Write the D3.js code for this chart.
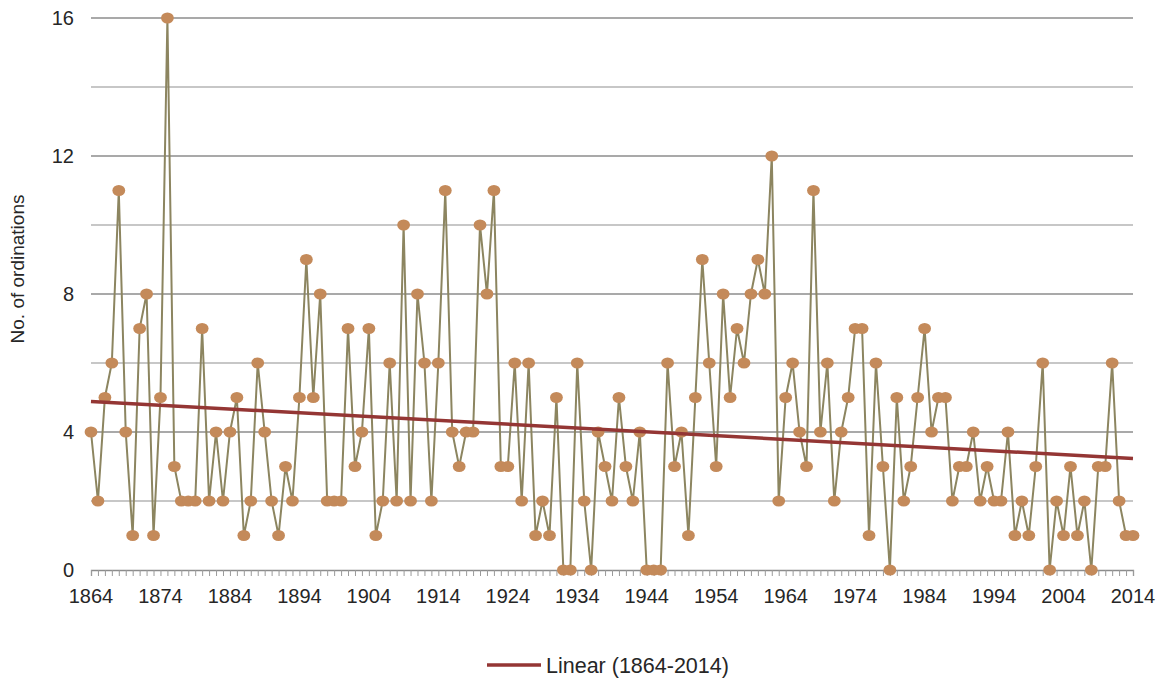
<!DOCTYPE html>
<html>
<head>
<meta charset="utf-8">
<script src="https://cdn.jsdelivr.net/npm/d3@7"></script>
<style>
  body { margin: 0; background: #fff; }
  text { font-family: "Liberation Sans", Arial, sans-serif; fill: #262626; }
</style>
</head>
<body>
<script>
const years = d3.range(1864, 2015);
const ordinations = [
    4, 2, 5, 6, 11, 4, 1, 7, 8, 1,      // 1864-1873
    5, 16, 3, 2, 2, 2, 7, 2, 4, 2,      // 1874-1883
    4, 5, 1, 2, 6, 4, 2, 1, 3, 2,       // 1884-1893
    5, 9, 5, 8, 2, 2, 2, 7, 3, 4,       // 1894-1903
    7, 1, 2, 6, 2, 10, 2, 8, 6, 2,      // 1904-1913
    6, 11, 4, 3, 4, 4, 10, 8, 11, 3,    // 1914-1923
    3, 6, 2, 6, 1, 2, 1, 5, 0, 0,       // 1924-1933
    6, 2, 0, 4, 3, 2, 5, 3, 2, 4,       // 1934-1943
    0, 0, 0, 6, 3, 4, 1, 5, 9, 6,       // 1944-1953
    3, 8, 5, 7, 6, 8, 9, 8, 12, 2,      // 1954-1963
    5, 6, 4, 3, 11, 4, 6, 2, 4, 5,      // 1964-1973
    7, 7, 1, 6, 3, 0, 5, 2, 3, 5,       // 1974-1983
    7, 4, 5, 5, 2, 3, 3, 4, 2, 3,       // 1984-1993
    2, 2, 4, 1, 2, 1, 3, 6, 0, 2,       // 1994-2003
    1, 3, 1, 2, 0, 3, 3, 6, 2, 1, 1     // 2004-2014
];
const xTickYears = d3.range(1864, 2015, 10);
const yTicks = [0, 4, 8, 12, 16];
const gridValues = [2, 4, 6, 8, 10, 12, 14, 16];
const trendLabel = 'Linear (1864-2014)';

function main() {
    const W = 1168, H = 682;
    const svg = d3.select('body').append('svg')
        .attr('width', W).attr('height', H);

    const data = years.map((y, i) => ({year: y, v: ordinations[i]}));

    const x = d3.scaleLinear().domain([1864, 2014]).range([91, 1133]);
    const y = d3.scaleLinear().domain([0, 16]).range([570, 18]);

    // gridlines
    svg.append('g').selectAll('line')
        .data(gridValues)
        .join('line')
        .attr('x1', x(1864)).attr('x2', x(2014))
        .attr('y1', d => y(d)).attr('y2', d => y(d))
        .attr('stroke', d => d % 4 === 0 ? '#8c8c8c' : '#b4b4b4')
        .attr('stroke-width', 1.3);

    // x axis with a tick every year
    const xAxis = d3.axisBottom(x)
        .tickValues(years)
        .tickSize(6)
        .tickFormat('');
    const gx = svg.append('g').attr('transform', `translate(0,${y(0)})`).call(xAxis);
    gx.select('.domain').attr('stroke', '#8c8c8c').attr('stroke-width', 1.3);
    gx.selectAll('.tick line').attr('stroke', '#9a9a9a');

    svg.append('g').selectAll('text')
        .data(xTickYears)
        .join('text')
        .attr('x', d => x(d))
        .attr('y', 603)
        .attr('text-anchor', 'middle')
        .style('font-size', '20px')
        .text(d => d);

    // y tick labels
    svg.append('g').selectAll('text')
        .data(yTicks)
        .join('text')
        .attr('x', 74)
        .attr('y', d => y(d) + 7)
        .attr('text-anchor', 'end')
        .style('font-size', '20px')
        .text(d => d);

    svg.append('text')
        .attr('transform', 'translate(24,269) rotate(-90)')
        .attr('text-anchor', 'middle')
        .style('font-size', '19px')
        .text('No. of ordinations');

    // series line
    const line = d3.line().x(d => x(d.year)).y(d => y(d.v));
    svg.append('path')
        .datum(data)
        .attr('d', line)
        .attr('fill', 'none')
        .attr('stroke', '#8c8560')
        .attr('stroke-width', 2);

    svg.append('g').selectAll('ellipse')
        .data(data)
        .join('ellipse')
        .attr('cx', d => x(d.year))
        .attr('cy', d => y(d.v))
        .attr('rx', 6.4)
        .attr('ry', 5.6)
        .attr('fill', '#c48a5a');

    // linear trend (least squares)
    const mx = d3.mean(data, d => d.year), my = d3.mean(data, d => d.v);
    const slope = d3.sum(data, d => (d.year - mx) * (d.v - my)) /
        d3.sum(data, d => (d.year - mx) ** 2);
    const trend = [1864, 2014].map(t => ({year: t, v: my + slope * (t - mx)}));
    svg.append('path')
        .datum(trend)
        .attr('d', line)
        .attr('stroke', '#943634')
        .attr('stroke-width', 3.5)
        .attr('fill', 'none');

    // legend
    svg.append('line')
        .attr('x1', 487).attr('x2', 541)
        .attr('y1', 665).attr('y2', 665)
        .attr('stroke', '#943634')
        .attr('stroke-width', 3.5);
    svg.append('text')
        .attr('x', 546).attr('y', 673)
        .style('font-size', '21.5px')
        .text(trendLabel);
}

main();
</script>
</body>
</html>
